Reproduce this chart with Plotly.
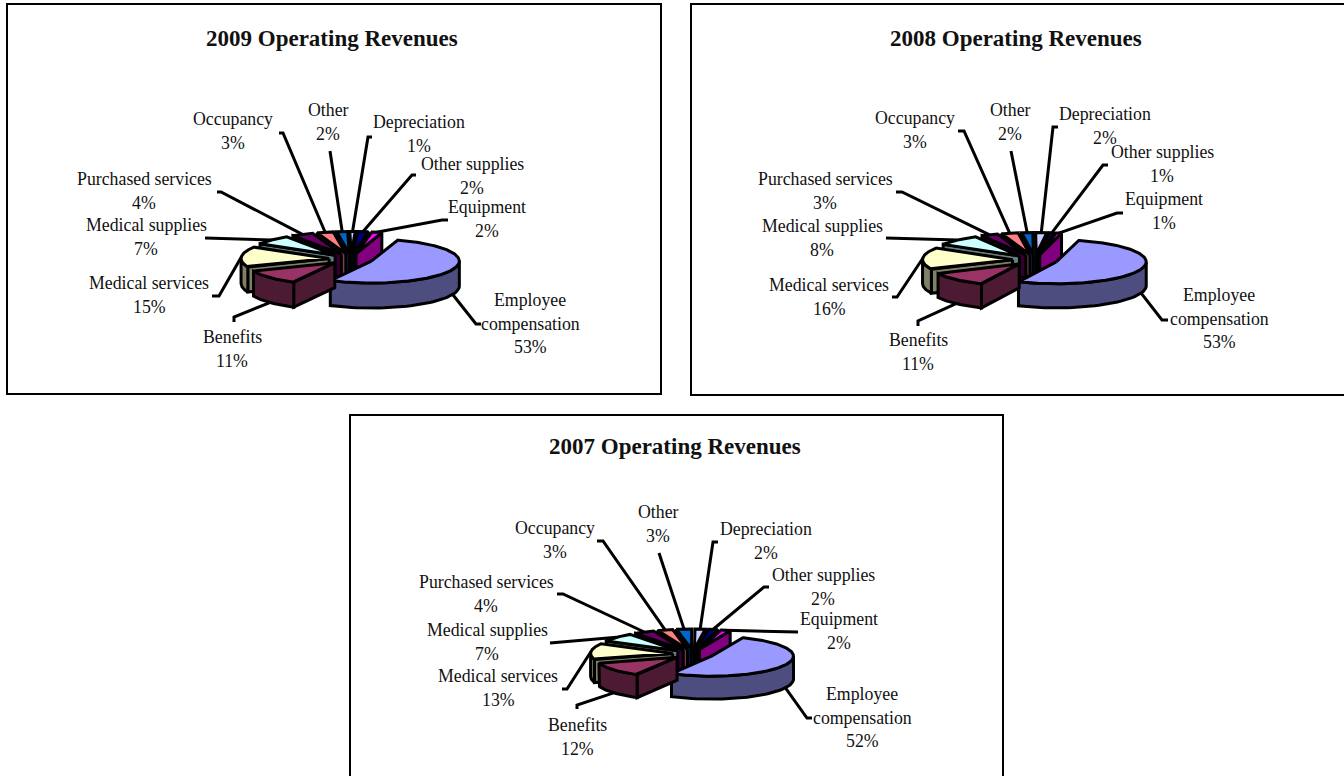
import numpy as np
import plotly.graph_objects as go

CATEGORIES = ["Employee compensation", "Benefits", "Medical services", "Medical supplies",
              "Purchased services", "Occupancy", "Other", "Depreciation", "Other supplies", "Equipment"]
VALUES_2009 = [53, 11, 15, 7, 4, 3, 2, 1, 2, 2]
VALUES_2008 = [53, 11, 16, 8, 3, 3, 2, 2, 1, 1]
VALUES_2007 = [52, 12, 13, 7, 4, 3, 3, 2, 2, 2]

TOP_COLORS = ["#9999FF", "#993366", "#FFFFCC", "#CCFFFF", "#660066",
              "#FF8080", "#0066CC", "#CCCCFF", "#000080", "#FF00FF"]
SIDE_COLORS = ["#4D4D80", "#4D1A33", "#808066", "#668080", "#330033",
               "#804040", "#003366", "#666680", "#000040", "#800080"]

FONT = "Liberation Serif"
OUTLINE = 3
EXPLODE = 0.25

# Per-panel geometry in page pixels; label entries are (name x, name y) and leader bend points.
PANELS = [
    dict(title="2009 Operating Revenues", values=VALUES_2009, frame=(7, 4, 661, 394), title_xy=(332, 38),
         center=(351, 259), rx=88, ry=22, depth=25, start=17,
         labels=[(530, 300), (232, 337), (149, 283), (146, 225), (144, 179),
                 (233, 119), (328, 110), (419, 122), (472, 164), (487, 207)],
         bends=[[(476, 324), (481, 324)], [(234, 317), (234, 322)], [(219, 296), (212, 296)],
                [(205, 238)], [(221, 192), (217, 192)], [(283, 133), (279, 133)],
                [(330, 151)], [(368, 137), (372, 137)], [(412, 175), (416, 175)], [(442, 220), (448, 220)]]),
    dict(title="2008 Operating Revenues", values=VALUES_2008, frame=(691, 4, 1350, 395), title_xy=(1016, 38),
         center=(1035, 260), rx=90, ry=22, depth=24, start=14,
         labels=[(1219, 295), (918, 340), (829, 285), (822, 226), (825, 179),
                 (915, 118), (1010, 110), (1105, 114), (1162, 152), (1164, 199)],
         bends=[[(1162, 320), (1168, 320)], [(918, 321), (918, 326)], [(897, 297), (892, 297)],
                [(886, 238)], [(902, 192), (896, 192)], [(964, 131), (958, 131)],
                [(1011, 151)], [(1053, 127), (1058, 127)], [(1103, 165), (1108, 165)], [(1117, 213), (1123, 213)]]),
    dict(title="2007 Operating Revenues", values=VALUES_2007, frame=(350, 415, 1003, 790), title_xy=(675, 446),
         center=(693, 654), rx=82, ry=20, depth=23, start=22,
         labels=[(862, 694), (577, 725), (498, 676), (487, 630), (486, 582),
                 (555, 528), (658, 512), (766, 529), (823, 575), (839, 619)],
         bends=[[(807, 718), (812, 718)], [(577, 705), (577, 709)], [(567, 689), (562, 689)],
                [(550, 643)], [(563, 594), (557, 594)], [(603, 541), (597, 541)],
                [(659, 553)], [(713, 542), (718, 542)], [(764, 587), (769, 587)], [(798, 632)]]),
]


def rim(cx, cy, rx, ry, angles):
    """Project clockwise-from-back pie angles (degrees) onto the tilted ellipse."""
    a = np.radians(angles)
    return cx + rx * np.sin(a), cy - ry * np.cos(a)


def polygon(fig, xs, ys, fill):
    fig.add_trace(go.Scatter(x=list(xs), y=list(ys), mode="lines", fill="toself", fillcolor=fill,
                             line=dict(color="black", width=OUTLINE), hoverinfo="skip", showlegend=False))


def add_wall(fig, x0, y0, x1, y1, depth, fill):
    polygon(fig, [x0, x1, x1, x0, x0], [y0, y1, y1 + depth, y0 + depth, y0], fill)


def add_panel(fig, panel):
    values = np.array(panel["values"], dtype=float)
    cx0, cy0 = panel["center"]
    rx, ry, depth = panel["rx"], panel["ry"], panel["depth"]
    spans = values / values.sum() * 360
    starts = panel["start"] + np.concatenate([[0], np.cumsum(spans)[:-1]])
    ends = starts + spans
    mids = (starts + ends) / 2

    offsets = [rim(0, 0, rx * EXPLODE, ry * EXPLODE, m) for m in mids]

    # Leader lines run underneath the wedges.
    for i, bend in enumerate(panel["bends"]):
        ox, oy = offsets[i]
        ax, ay = rim(cx0 + ox, cy0 + oy, rx, ry, mids[i])
        if np.cos(np.radians(mids[i])) < 0:
            ay += depth
        pts = [(float(ax), float(ay))] + bend
        fig.add_trace(go.Scatter(x=[p[0] for p in pts], y=[p[1] for p in pts], mode="lines",
                                 line=dict(color="black", width=OUTLINE), hoverinfo="skip", showlegend=False))

    # Paint wedges from the back of the pie toward the viewer.
    for i in np.argsort(-np.cos(np.radians(mids))):
        ox, oy = offsets[i]
        cx, cy = cx0 + ox, cy0 + oy
        top, side = TOP_COLORS[i], SIDE_COLORS[i]
        s, e = starts[i], ends[i]

        if np.cos(np.radians(s - 90)) < 0:
            x1, y1 = rim(cx, cy, rx, ry, s)
            add_wall(fig, cx, cy, float(x1), float(y1), depth, side)
        if np.cos(np.radians(e + 90)) < 0:
            x1, y1 = rim(cx, cy, rx, ry, e)
            add_wall(fig, cx, cy, float(x1), float(y1), depth, side)

        # Outer curved wall: the part of the arc that faces front.
        lo, hi = max(s, 90), min(e, 270)
        if hi > lo:
            arc = np.linspace(lo, hi, 40)
            ax, ay = rim(cx, cy, rx, ry, arc)
            polygon(fig, np.r_[ax, ax[::-1], ax[0]], np.r_[ay, ay[::-1] + depth, ay[0]], side)

        arc = np.linspace(s, e, max(int(e - s) * 2, 6))
        ax, ay = rim(cx, cy, rx, ry, arc)
        polygon(fig, np.r_[cx, ax, cx], np.r_[cy, ay, cy], top)

    # Frame, title and slice labels.
    fx0, fy0, fx1, fy1 = panel["frame"]
    fig.add_shape(type="rect", x0=fx0, y0=fy0, x1=fx1, y1=fy1, layer="below",
                  line=dict(color="black", width=2), fillcolor="white")
    tx, ty = panel["title_xy"]
    fig.add_annotation(x=tx, y=ty, text=f"<b>{panel['title']}</b>", showarrow=False,
                       font=dict(family=FONT, size=23, color="#111111"))
    for name, value, (lx, ly) in zip(CATEGORIES, panel["values"], panel["labels"]):
        if name == "Employee compensation":
            lines = ["Employee", "compensation", f"{value}%"]
        else:
            lines = [name, f"{value}%"]
        for k, line in enumerate(lines):
            fig.add_annotation(x=lx, y=ly + k * 23.5, text=line, showarrow=False,
                               font=dict(family=FONT, size=17.8, color="#111111"))


fig = go.Figure()
for panel in PANELS:
    add_panel(fig, panel)

fig.update_xaxes(range=[0, 1344], visible=False, fixedrange=True)
fig.update_yaxes(range=[776, 0], visible=False, fixedrange=True)
fig.update_layout(width=1344, height=776, margin=dict(l=0, r=0, t=0, b=0),
                  paper_bgcolor="white", plot_bgcolor="white", showlegend=False)
fig.write_html("out.html", config={"displayModeBar": False})
